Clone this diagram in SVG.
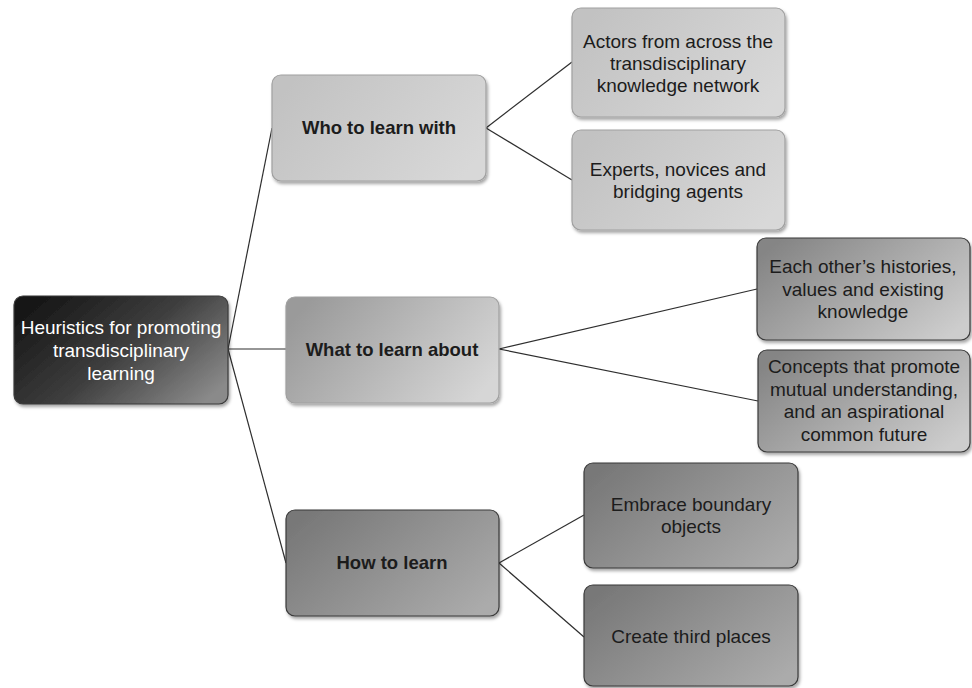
<svg xmlns="http://www.w3.org/2000/svg" width="972" height="688" viewBox="0 0 972 688">
<defs>
<filter id="sh" x="-5%" y="-5%" width="115%" height="120%">
<feDropShadow dx="1.5" dy="2.5" stdDeviation="1.5" flood-color="#000" flood-opacity="0.35"/>
</filter>
<linearGradient id="gRoot" x1="0" y1="0.2" x2="1" y2="0.8">
<stop offset="0" stop-color="#161616"/>
<stop offset="0.5" stop-color="#3e3e3e"/>
<stop offset="1" stop-color="#8a8a8a"/>
</linearGradient>
<linearGradient id="gLight" x1="0" y1="0.3" x2="1" y2="0.7">
<stop offset="0" stop-color="#c2c2c2"/>
<stop offset="1" stop-color="#d8d8d8"/>
</linearGradient>
<linearGradient id="gWhat" x1="0" y1="0.3" x2="1" y2="0.7">
<stop offset="0" stop-color="#9a9a9a"/>
<stop offset="1" stop-color="#d6d6d6"/>
</linearGradient>
<linearGradient id="gMid" x1="0" y1="0.2" x2="1" y2="0.8">
<stop offset="0" stop-color="#858585"/>
<stop offset="1" stop-color="#cdcdcd"/>
</linearGradient>
<linearGradient id="gDark" x1="0" y1="0.2" x2="1" y2="0.8">
<stop offset="0" stop-color="#787878"/>
<stop offset="1" stop-color="#ababab"/>
</linearGradient>
</defs>
<style>
.box{filter:url(#sh);stroke-width:1.2}
.lb{stroke:#a0a0a0}
.db{stroke:#3a3a3a}
.t{font-family:"Liberation Sans",Arial,sans-serif;font-size:19px;fill:#1c1c1c;text-anchor:middle}
.b{font-weight:bold;font-size:18.5px}
.w{fill:#ffffff}
.c line{stroke:#2e2e2e;stroke-width:1.2}
</style>
<g class="c" id="connectors">
<line x1="228" y1="349" x2="272" y2="128"/>
<line x1="228" y1="349" x2="286" y2="349"/>
<line x1="228" y1="349" x2="286" y2="563"/>
<line x1="486" y1="128" x2="572" y2="62"/>
<line x1="486" y1="128" x2="572" y2="180"/>
<line x1="499" y1="349" x2="757" y2="289"/>
<line x1="499" y1="349" x2="758" y2="401"/>
<line x1="499" y1="563" x2="584" y2="515"/>
<line x1="499" y1="563" x2="584" y2="637"/>
</g>
<g id="root">
<rect class="box db" x="14" y="296" width="214" height="108" rx="9" fill="url(#gRoot)"/>
<text class="t w" x="121" y="334">Heuristics for promoting</text>
<text class="t w" x="121" y="357">transdisciplinary</text>
<text class="t w" x="121" y="380">learning</text>
</g>
<g id="who">
<rect class="box lb" x="272" y="75" width="214" height="106" rx="9" fill="url(#gLight)"/>
<text class="t b" x="379" y="134">Who to learn with</text>
</g>
<g id="what">
<rect class="box lb" x="286" y="297" width="213" height="106" rx="9" fill="url(#gWhat)"/>
<text class="t b" x="392" y="356">What to learn about</text>
</g>
<g id="how">
<rect class="box db" x="286" y="510" width="213" height="106" rx="9" fill="url(#gDark)"/>
<text class="t b" x="392" y="569">How to learn</text>
</g>
<g id="actors">
<rect class="box lb" x="572" y="8" width="213" height="109" rx="9" fill="url(#gLight)"/>
<text class="t" x="678" y="47.5">Actors from across the</text>
<text class="t" x="678" y="69.5">transdisciplinary</text>
<text class="t" x="678" y="91.5">knowledge network</text>
</g>
<g id="experts">
<rect class="box lb" x="572" y="130" width="213" height="100" rx="9" fill="url(#gLight)"/>
<text class="t" x="678" y="176">Experts, novices and</text>
<text class="t" x="678" y="198">bridging agents</text>
</g>
<g id="each">
<rect class="box db" x="757" y="238" width="213" height="102" rx="9" fill="url(#gMid)"/>
<text class="t" x="863" y="273">Each other’s histories,</text>
<text class="t" x="863" y="295.5">values and existing</text>
<text class="t" x="863" y="318">knowledge</text>
</g>
<g id="concepts">
<rect class="box db" x="758" y="350" width="212" height="102" rx="9" fill="url(#gMid)"/>
<text class="t" x="864" y="373">Concepts that promote</text>
<text class="t" x="864" y="395.5">mutual understanding,</text>
<text class="t" x="864" y="418">and an aspirational</text>
<text class="t" x="864" y="440.5">common future</text>
</g>
<g id="embrace">
<rect class="box db" x="584" y="463" width="214" height="105" rx="9" fill="url(#gDark)"/>
<text class="t" x="691" y="511">Embrace boundary</text>
<text class="t" x="691" y="533">objects</text>
</g>
<g id="create">
<rect class="box db" x="584" y="585" width="214" height="101" rx="9" fill="url(#gDark)"/>
<text class="t" x="691" y="643">Create third places</text>
</g>
</svg>
